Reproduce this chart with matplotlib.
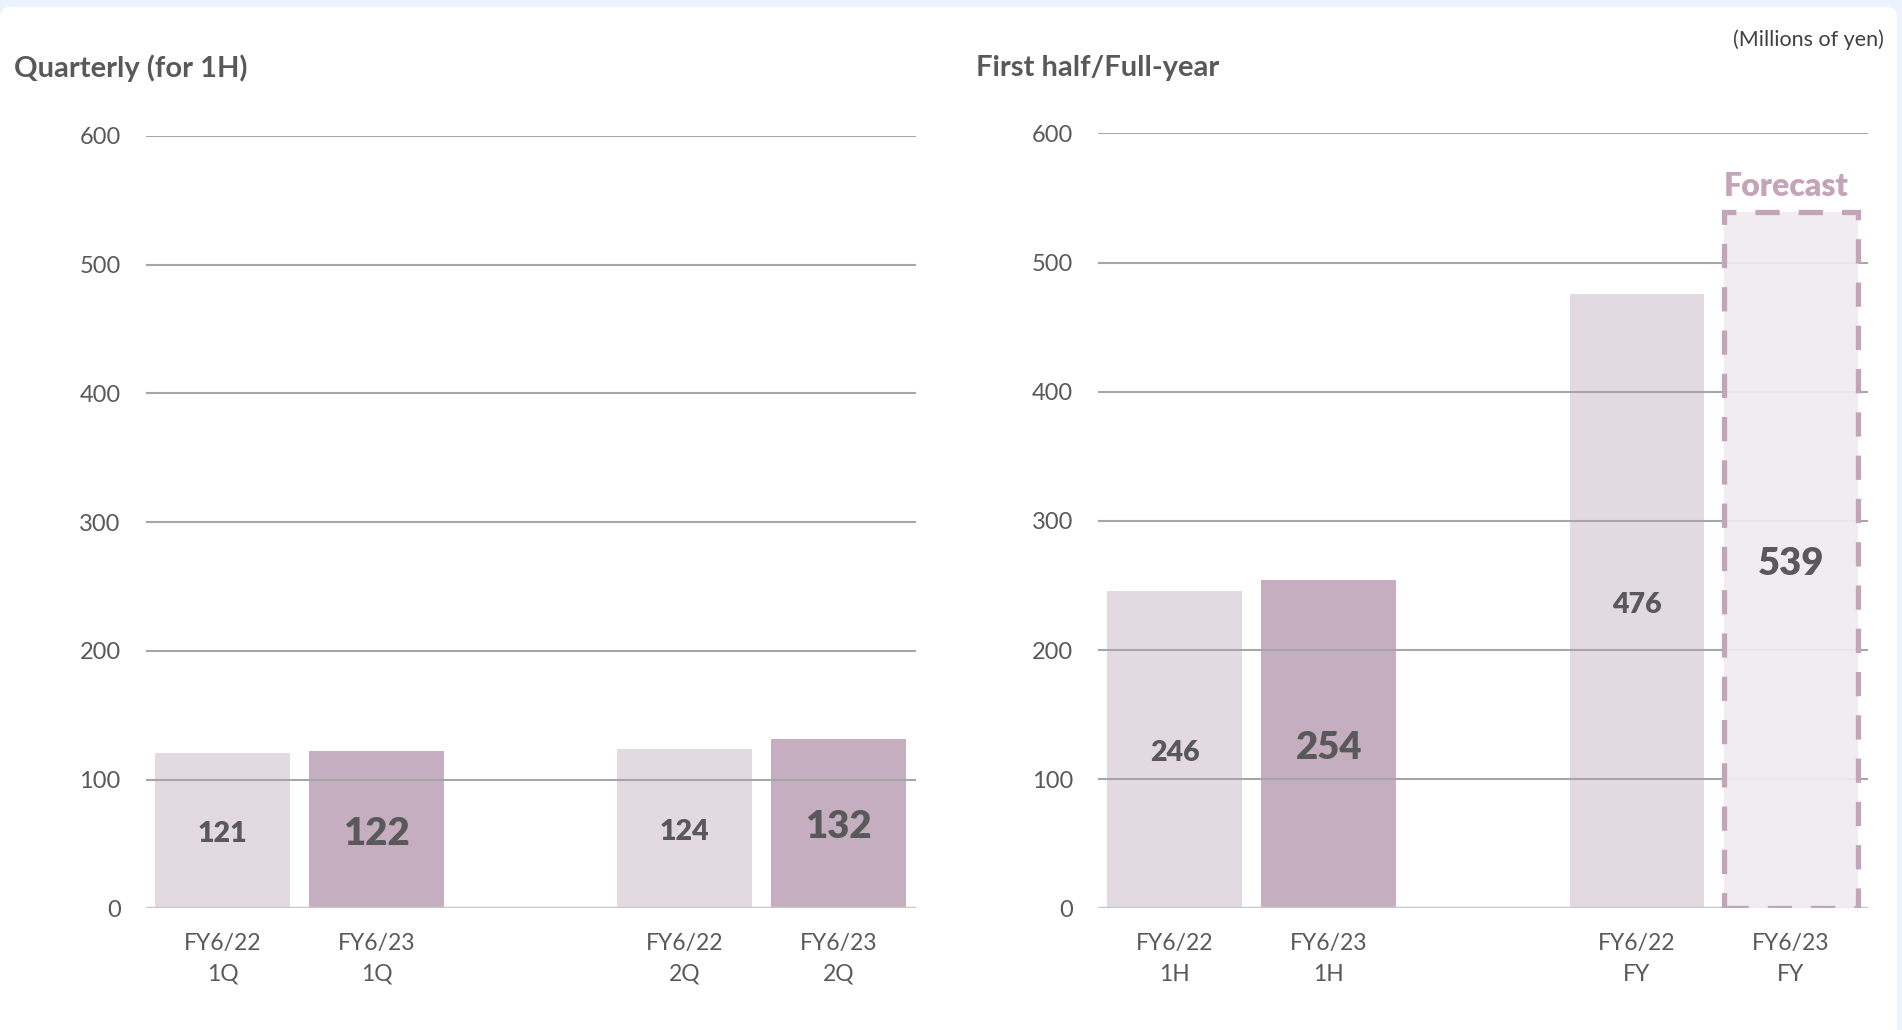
import matplotlib
matplotlib.use("Agg")
import matplotlib.pyplot as plt
from matplotlib.patches import Rectangle, FancyBboxPatch
from matplotlib.transforms import IdentityTransform

plt.rcParams['font.family'] = ['Lato', 'DejaVu Sans']

# quarterly figures (millions of yen)
quarter_labels = ["FY6/22\n1Q", "FY6/23\n1Q", "FY6/22\n2Q", "FY6/23\n2Q"]
quarter_values = [121, 122, 124, 132]

# first half / full year figures, last one is the forecast
half_labels = ["FY6/22\n1H", "FY6/23\n1H", "FY6/22\nFY", "FY6/23\nFY"]
half_values = [246, 254, 476, 539]

y_ticks = [0, 100, 200, 300, 400, 500, 600]

xpos = [0, 1, 3, 4]
light = "#E3D9E1"
dark = "#C5AEC0"
fc_fill = "#F0EBEF"
fc_edge = "#C3A4B9"
txt = "#595959"
grid_c = "#A6A6A6"

fig = plt.figure(figsize=(19.02, 10.30), dpi=100)
fig.patch.set_facecolor("#EBF3FC")
panel = FancyBboxPatch((0, -40), 1897, 1063, boxstyle="round,pad=0,rounding_size=10",
                       transform=IdentityTransform(), facecolor="white",
                       edgecolor="none", zorder=-5)
fig.patches.append(panel)


def setup(ax):
    ax.set_facecolor("none")
    ax.set_xlim(-0.5, 4.5)
    ax.set_ylim(0, 600)
    ax.set_yticks(y_ticks)
    ax.set_yticklabels([str(v) for v in y_ticks], fontsize=17, color=txt)
    for s in ax.spines.values():
        s.set_visible(False)
    ax.tick_params(axis="both", length=0)
    ax.tick_params(axis="y", pad=18)
    ax.tick_params(axis="x", pad=18)
    for v in y_ticks[1:]:
        ax.axhline(v, color=grid_c, lw=1.5, zorder=3)
    ax.axhline(0, color="#C8C8C8", lw=2.5, zorder=3)


def value_label(ax, x, v, big):
    ax.text(x, v / 2 - 3, str(v), ha="center", va="center", color=txt,
            fontsize=27.5 if big else 20.5, fontweight="heavy", zorder=6)


# left: quarterly
ax1 = fig.add_axes([0.0765, 0.118, 0.405, 0.750])
setup(ax1)
colors = [light, dark, light, dark]
ax1.bar(xpos, quarter_values, width=0.875, color=colors, zorder=2)
for i, (x, v) in enumerate(zip(xpos, quarter_values)):
    value_label(ax1, x, v, i % 2 == 1)
ax1.set_xticks(xpos)
ax1.set_xticklabels(quarter_labels, fontsize=16.5, color=txt, linespacing=1.55)

# right: first half / full year
ax2 = fig.add_axes([0.5772, 0.118, 0.4049, 0.7525])
setup(ax2)
ax2.bar(xpos[:3], half_values[:3], width=0.875, color=[light, dark, light], zorder=2)
ax2.bar(xpos[3], half_values[3], width=0.875, color=fc_fill, alpha=0.92, zorder=4)
ax2.add_patch(Rectangle((xpos[3] - 0.4375, 0), 0.875, half_values[3], fill=False,
                        edgecolor=fc_edge, lw=3.8, linestyle=(0, (4.6, 3.6)), zorder=5))
value_label(ax2, xpos[0], half_values[0], False)
value_label(ax2, xpos[1], half_values[1], True)
value_label(ax2, xpos[2], half_values[2], False)
value_label(ax2, xpos[3], half_values[3], True)
ax2.text(xpos[3] - 0.03, half_values[3] + 9, "Forecast", ha="center", va="bottom",
         color=fc_edge, fontsize=23, fontweight="heavy")
ax2.set_xticks(xpos)
ax2.set_xticklabels(half_labels, fontsize=16.5, color=txt, linespacing=1.55)

fig.text(14.5 / 1902, 1 - 68 / 1030, "Quarterly (for 1H)", fontsize=21,
         fontweight="bold", color=txt, va="center", ha="left")
fig.text(976.5 / 1902, 1 - 68 / 1030, "First half/Full-year", fontsize=21,
         fontweight="bold", color=txt, va="center", ha="left")
fig.text(1884 / 1902, 1 - 40 / 1030, "(Millions of yen)", fontsize=15.5,
         color="#404040", va="center", ha="right")

fig.savefig("out.png", dpi=100, facecolor=fig.get_facecolor())
